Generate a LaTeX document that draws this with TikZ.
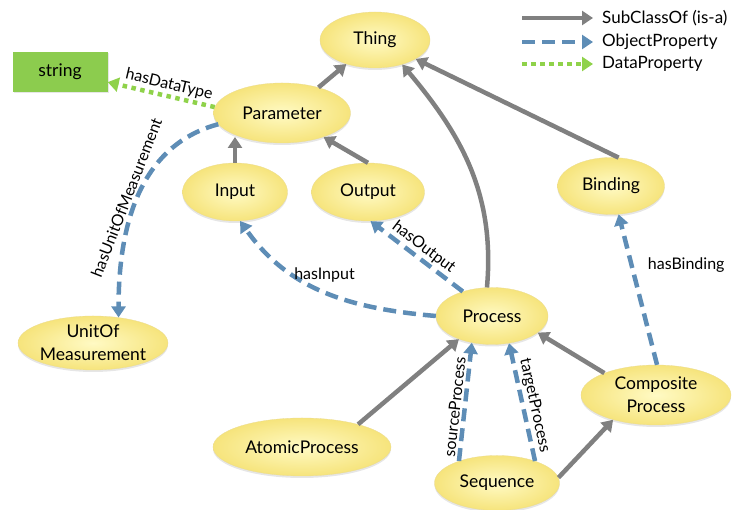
\documentclass[tikz,border=0pt]{standalone}
\usepackage{fontspec}
\setmainfont{Lato}
\usetikzlibrary{shapes,arrows.meta,shadows}
\definecolor{isagrey}{HTML}{808080}
\definecolor{objblue}{HTML}{5E8DB6}
\definecolor{datagreen}{HTML}{8FD24A}
\definecolor{stringgreen}{HTML}{8CCC4E}
\definecolor{ellin}{HTML}{FFFAC4}
\definecolor{ellout}{HTML}{F6E47C}
\definecolor{ellborder}{HTML}{EADB92}

\begin{document}
\begin{tikzpicture}[x=1pt,y=1pt,font=\fontsize{16}{18}\selectfont,
    class/.style={ellipse,inner sep=0pt,align=center,inner color=ellin,outer color=ellout,draw=ellborder,line width=0.3pt,
        font=\fontsize{17.5}{23}\selectfont,drop shadow={shadow xshift=0pt,shadow yshift=-2pt,opacity=0.2}},
    tip/.style={-{Triangle[length=11pt,width=14pt]}},
    isa/.style={tip,draw=isagrey,line width=4.5pt},
    obj/.style={tip,draw=objblue,line width=4.5pt,dash pattern=on 13pt off 7pt},
    dat/.style={tip,draw=datagreen,line width=4.5pt,dash pattern=on 4.5pt off 4.5pt},
    lbl/.style={text=black,inner sep=2pt},
    key/.style={anchor=west,inner sep=2pt,font=\fontsize{17}{19}\selectfont}]

    \useasboundingbox (0,0) rectangle (734,510);

    \node[class,minimum width=110pt,minimum height=56pt] (thing) at (375,470) {Thing};
    \node[fill=stringgreen,minimum width=95pt,minimum height=40pt,font=\fontsize{17.5}{20}\selectfont,
        drop shadow={shadow xshift=1pt,shadow yshift=-1pt,opacity=0.2}] (string) at (60,438) {string};
    \node[class,minimum width=137pt,minimum height=60pt] (param) at (282,397) {Parameter};
    \node[class,minimum width=105pt,minimum height=58pt] (input) at (235,318) {Input};
    \node[class,minimum width=113pt,minimum height=58pt] (output) at (368,318) {Output};
    \node[class,minimum width=107pt,minimum height=57pt] (binding) at (611,324) {Binding};
    \node[class,minimum width=142pt,minimum height=54pt] (unit) at (93,167) {UnitOf\\Measurement};
    \node[class,minimum width=112pt,minimum height=57pt] (process) at (492,194) {Process};
    \node[class,minimum width=150pt,minimum height=60pt] (comp) at (656,115) {Composite\\Process};
    \node[class,minimum width=178pt,minimum height=58pt] (atomic) at (302,63) {AtomicProcess};
    \node[class,minimum width=125pt,minimum height=55pt] (seq) at (497,27) {Sequence};

    \draw[isa] (param.35) -- (thing.-140);
    \draw[isa] (input.north) -- (input.north |- param.-150);
    \draw[isa] (output.north) -- (param.-30);
    \draw[isa] (binding.75) -- (thing.-25);
    \draw[isa] (process.100) to[out=85,in=-50] (thing.-42);
    \draw[isa] (comp.157) -- (process.-20);
    \draw[isa] (atomic.22) -- (process.-145);
    \draw[isa] (seq.5) -- (comp.-150);

    \draw[dat] (param.175) -- node[lbl,sloped,above,pos=0.45] (ldata) {hasDataType} (string.-12);
    \draw[obj] (param.190) to[out=195,in=90] node[lbl,sloped,above,pos=0.52] (lunit) {hasUnitOfMeasurement} (unit.45);
    \draw[obj] (process.west) to[out=175,in=-55] node[lbl,above=5pt,pos=0.5] (linput) {hasInput} (input.-80);
    \draw[obj] (process.140) -- node[lbl,sloped,above,pos=0.5] (loutput) {hasOutput} (output.-85);
    \draw[obj] (comp.88) -- node[lbl,right=12pt,pos=0.66] (lbind) {hasBinding} (binding.-75);
    \draw[obj] (seq.150) -- node[lbl,sloped,above,pos=0.45] (lsource) {sourceProcess} (process.-127);
    \draw[obj] (seq.30) -- node[lbl,sloped,above,pos=0.45] (ltarget) {targetProcess} (process.-58);

    \node[key] (kisa) at (600,492) {SubClassOf (is-a)};
    \node[key] (kobj) at (600,468) {ObjectProperty};
    \node[key] (kdat) at (600,446) {DataProperty};
    \coordinate (cisa) at (522,492);
    \coordinate (cobj) at (522,468);
    \coordinate (cdat) at (522,446);
    \draw[isa,shorten >=7pt] (cisa) -- (kisa.west);
    \draw[obj,shorten >=7pt] (cobj) -- (kobj.west);
    \draw[dat,shorten >=7pt] (cdat) -- (kdat.west);
\end{tikzpicture}
\end{document}
